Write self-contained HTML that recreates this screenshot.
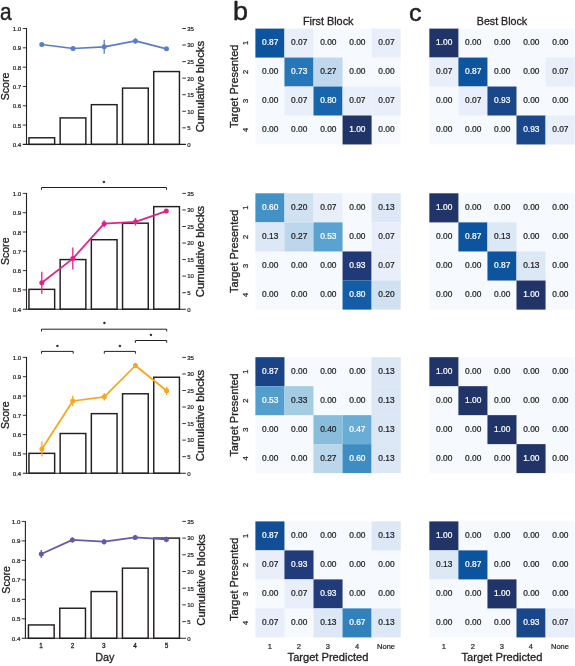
<!DOCTYPE html>
<html lang="en">
<head>
<meta charset="utf-8">
<title>Figure</title>
<style>
html,body{margin:0;padding:0;background:#ffffff;}
body{width:575px;height:666px;overflow:hidden;font-family:'Liberation Sans', Arial, Helvetica, sans-serif;}
svg{display:block;}
svg text{font-family:'Liberation Sans', Arial, Helvetica, sans-serif;}
</style>
</head>
<body>
<svg width="575" height="666" viewBox="0 0 575 666">
<rect width="575" height="666" fill="#ffffff"/>
<g id="chart1">
<rect x="28.95" y="137.78" width="25.7" height="6.62" fill="#fff" stroke="#231f20" stroke-width="1.45"/>
<rect x="60.15" y="117.91" width="25.7" height="26.49" fill="#fff" stroke="#231f20" stroke-width="1.45"/>
<rect x="91.35" y="104.66" width="25.7" height="39.74" fill="#fff" stroke="#231f20" stroke-width="1.45"/>
<rect x="122.55" y="88.11" width="25.7" height="56.29" fill="#fff" stroke="#231f20" stroke-width="1.45"/>
<rect x="153.75" y="71.55" width="25.7" height="72.85" fill="#fff" stroke="#231f20" stroke-width="1.45"/>
<path d="M26.5 28.05V144.4" stroke="#231f20" stroke-width="1.1" fill="none"/>
<path d="M22.8 144.4H185.9" stroke="#231f20" stroke-width="1.1" fill="none"/>
<path d="M22.8 28.50H26.5" stroke="#231f20" stroke-width="0.9"/>
<text x="21.3" y="31.0" font-size="6.2" text-anchor="end" fill="#231f20" stroke="#231f20" stroke-width="0.22">1.0</text>
<path d="M22.8 47.82H26.5" stroke="#231f20" stroke-width="0.9"/>
<text x="21.3" y="50.32" font-size="6.2" text-anchor="end" fill="#231f20" stroke="#231f20" stroke-width="0.22">0.9</text>
<path d="M22.8 67.13H26.5" stroke="#231f20" stroke-width="0.9"/>
<text x="21.3" y="69.63" font-size="6.2" text-anchor="end" fill="#231f20" stroke="#231f20" stroke-width="0.22">0.8</text>
<path d="M22.8 86.45H26.5" stroke="#231f20" stroke-width="0.9"/>
<text x="21.3" y="88.95" font-size="6.2" text-anchor="end" fill="#231f20" stroke="#231f20" stroke-width="0.22">0.7</text>
<path d="M22.8 105.77H26.5" stroke="#231f20" stroke-width="0.9"/>
<text x="21.3" y="108.27" font-size="6.2" text-anchor="end" fill="#231f20" stroke="#231f20" stroke-width="0.22">0.6</text>
<path d="M22.8 125.08H26.5" stroke="#231f20" stroke-width="0.9"/>
<text x="21.3" y="127.58" font-size="6.2" text-anchor="end" fill="#231f20" stroke="#231f20" stroke-width="0.22">0.5</text>
<text x="21.3" y="146.9" font-size="6.2" text-anchor="end" fill="#231f20" stroke="#231f20" stroke-width="0.22">0.4</text>
<text x="187.2" y="146.75" font-size="6.0" text-anchor="start" fill="#231f20" stroke="#231f20" stroke-width="0.22">0</text>
<path d="M182.3 127.84H185.9" stroke="#231f20" stroke-width="0.9"/>
<text x="187.2" y="130.19" font-size="6.0" text-anchor="start" fill="#231f20" stroke="#231f20" stroke-width="0.22">5</text>
<path d="M182.3 111.29H185.9" stroke="#231f20" stroke-width="0.9"/>
<text x="187.2" y="113.64" font-size="6.0" text-anchor="start" fill="#231f20" stroke="#231f20" stroke-width="0.22">10</text>
<path d="M182.3 94.73H185.9" stroke="#231f20" stroke-width="0.9"/>
<text x="187.2" y="97.08" font-size="6.0" text-anchor="start" fill="#231f20" stroke="#231f20" stroke-width="0.22">15</text>
<path d="M182.3 78.17H185.9" stroke="#231f20" stroke-width="0.9"/>
<text x="187.2" y="80.52" font-size="6.0" text-anchor="start" fill="#231f20" stroke="#231f20" stroke-width="0.22">20</text>
<path d="M182.3 61.61H185.9" stroke="#231f20" stroke-width="0.9"/>
<text x="187.2" y="63.96" font-size="6.0" text-anchor="start" fill="#231f20" stroke="#231f20" stroke-width="0.22">25</text>
<path d="M182.3 45.06H185.9" stroke="#231f20" stroke-width="0.9"/>
<text x="187.2" y="47.41" font-size="6.0" text-anchor="start" fill="#231f20" stroke="#231f20" stroke-width="0.22">30</text>
<path d="M182.3 28.50H185.9" stroke="#231f20" stroke-width="0.9"/>
<text x="187.2" y="30.85" font-size="6.0" text-anchor="start" fill="#231f20" stroke="#231f20" stroke-width="0.22">35</text>
<path d="M41.8 44.5 L73.0 48.5 L104.2 46.8 L135.4 40.9 L166.5 48.8" stroke="#5b7dc5" stroke-width="1.75" fill="none" stroke-linejoin="round"/>
<path d="M41.8 43.00V46.00" stroke="#5b7dc5" stroke-width="1.3"/>
<circle cx="41.8" cy="44.5" r="2.5" fill="#5b7dc5"/>
<path d="M73.0 45.90V51.10" stroke="#5b7dc5" stroke-width="1.3"/>
<circle cx="73.0" cy="48.5" r="2.5" fill="#5b7dc5"/>
<path d="M104.2 39.80V53.80" stroke="#5b7dc5" stroke-width="1.3"/>
<circle cx="104.2" cy="46.8" r="2.5" fill="#5b7dc5"/>
<path d="M135.4 38.30V43.50" stroke="#5b7dc5" stroke-width="1.3"/>
<circle cx="135.4" cy="40.9" r="2.5" fill="#5b7dc5"/>
<path d="M166.5 47.30V50.30" stroke="#5b7dc5" stroke-width="1.3"/>
<circle cx="166.5" cy="48.8" r="2.5" fill="#5b7dc5"/>
<text x="9.4" y="86.45" font-size="11.6" text-anchor="middle" fill="#231f20" stroke="#231f20" stroke-width="0.32" textLength="27.6" lengthAdjust="spacingAndGlyphs" transform="rotate(-90 9.4 86.45)">Score</text>
<text x="204.4" y="86.65" font-size="11.6" text-anchor="middle" fill="#231f20" stroke="#231f20" stroke-width="0.32" textLength="91.4" lengthAdjust="spacingAndGlyphs" transform="rotate(-90 204.4 86.65)">Cumulative blocks</text>
</g>
<g id="chart2">
<rect x="28.95" y="289.35" width="25.7" height="19.85" fill="#fff" stroke="#231f20" stroke-width="1.45"/>
<rect x="60.15" y="259.57" width="25.7" height="49.63" fill="#fff" stroke="#231f20" stroke-width="1.45"/>
<rect x="91.35" y="239.72" width="25.7" height="69.48" fill="#fff" stroke="#231f20" stroke-width="1.45"/>
<rect x="122.55" y="223.18" width="25.7" height="86.02" fill="#fff" stroke="#231f20" stroke-width="1.45"/>
<rect x="153.75" y="206.63" width="25.7" height="102.57" fill="#fff" stroke="#231f20" stroke-width="1.45"/>
<path d="M26.5 192.95000000000002V309.2" stroke="#231f20" stroke-width="1.1" fill="none"/>
<path d="M22.8 309.2H185.9" stroke="#231f20" stroke-width="1.1" fill="none"/>
<path d="M22.8 193.40H26.5" stroke="#231f20" stroke-width="0.9"/>
<text x="21.3" y="195.9" font-size="6.2" text-anchor="end" fill="#231f20" stroke="#231f20" stroke-width="0.22">1.0</text>
<path d="M22.8 212.70H26.5" stroke="#231f20" stroke-width="0.9"/>
<text x="21.3" y="215.2" font-size="6.2" text-anchor="end" fill="#231f20" stroke="#231f20" stroke-width="0.22">0.9</text>
<path d="M22.8 232.00H26.5" stroke="#231f20" stroke-width="0.9"/>
<text x="21.3" y="234.5" font-size="6.2" text-anchor="end" fill="#231f20" stroke="#231f20" stroke-width="0.22">0.8</text>
<path d="M22.8 251.30H26.5" stroke="#231f20" stroke-width="0.9"/>
<text x="21.3" y="253.8" font-size="6.2" text-anchor="end" fill="#231f20" stroke="#231f20" stroke-width="0.22">0.7</text>
<path d="M22.8 270.60H26.5" stroke="#231f20" stroke-width="0.9"/>
<text x="21.3" y="273.1" font-size="6.2" text-anchor="end" fill="#231f20" stroke="#231f20" stroke-width="0.22">0.6</text>
<path d="M22.8 289.90H26.5" stroke="#231f20" stroke-width="0.9"/>
<text x="21.3" y="292.4" font-size="6.2" text-anchor="end" fill="#231f20" stroke="#231f20" stroke-width="0.22">0.5</text>
<text x="21.3" y="311.7" font-size="6.2" text-anchor="end" fill="#231f20" stroke="#231f20" stroke-width="0.22">0.4</text>
<text x="187.2" y="311.55" font-size="6.0" text-anchor="start" fill="#231f20" stroke="#231f20" stroke-width="0.22">0</text>
<path d="M182.3 292.66H185.9" stroke="#231f20" stroke-width="0.9"/>
<text x="187.2" y="295.01" font-size="6.0" text-anchor="start" fill="#231f20" stroke="#231f20" stroke-width="0.22">5</text>
<path d="M182.3 276.11H185.9" stroke="#231f20" stroke-width="0.9"/>
<text x="187.2" y="278.46" font-size="6.0" text-anchor="start" fill="#231f20" stroke="#231f20" stroke-width="0.22">10</text>
<path d="M182.3 259.57H185.9" stroke="#231f20" stroke-width="0.9"/>
<text x="187.2" y="261.92" font-size="6.0" text-anchor="start" fill="#231f20" stroke="#231f20" stroke-width="0.22">15</text>
<path d="M182.3 243.03H185.9" stroke="#231f20" stroke-width="0.9"/>
<text x="187.2" y="245.38" font-size="6.0" text-anchor="start" fill="#231f20" stroke="#231f20" stroke-width="0.22">20</text>
<path d="M182.3 226.49H185.9" stroke="#231f20" stroke-width="0.9"/>
<text x="187.2" y="228.84" font-size="6.0" text-anchor="start" fill="#231f20" stroke="#231f20" stroke-width="0.22">25</text>
<path d="M182.3 209.94H185.9" stroke="#231f20" stroke-width="0.9"/>
<text x="187.2" y="212.29" font-size="6.0" text-anchor="start" fill="#231f20" stroke="#231f20" stroke-width="0.22">30</text>
<path d="M182.3 193.40H185.9" stroke="#231f20" stroke-width="0.9"/>
<text x="187.2" y="195.75" font-size="6.0" text-anchor="start" fill="#231f20" stroke="#231f20" stroke-width="0.22">35</text>
<path d="M41.8 282.8 L72.8 258.6 L104.1 223.7 L135.5 221.8 L166.3 211.1" stroke="#e2228a" stroke-width="1.75" fill="none" stroke-linejoin="round"/>
<path d="M41.8 271.80V293.80" stroke="#e2228a" stroke-width="1.3"/>
<circle cx="41.8" cy="282.8" r="2.5" fill="#e2228a"/>
<path d="M72.8 247.60V269.60" stroke="#e2228a" stroke-width="1.3"/>
<circle cx="72.8" cy="258.6" r="2.5" fill="#e2228a"/>
<path d="M104.1 220.20V227.20" stroke="#e2228a" stroke-width="1.3"/>
<circle cx="104.1" cy="223.7" r="2.5" fill="#e2228a"/>
<path d="M135.5 218.00V225.60" stroke="#e2228a" stroke-width="1.3"/>
<circle cx="135.5" cy="221.8" r="2.5" fill="#e2228a"/>
<path d="M166.3 210.10V212.10" stroke="#e2228a" stroke-width="1.3"/>
<circle cx="166.3" cy="211.1" r="2.5" fill="#e2228a"/>
<text x="9.4" y="251.3" font-size="11.6" text-anchor="middle" fill="#231f20" stroke="#231f20" stroke-width="0.32" textLength="27.6" lengthAdjust="spacingAndGlyphs" transform="rotate(-90 9.4 251.3)">Score</text>
<text x="204.4" y="251.5" font-size="11.6" text-anchor="middle" fill="#231f20" stroke="#231f20" stroke-width="0.32" textLength="91.4" lengthAdjust="spacingAndGlyphs" transform="rotate(-90 204.4 251.5)">Cumulative blocks</text>
</g>
<g id="chart3">
<rect x="28.95" y="453.35" width="25.7" height="19.85" fill="#fff" stroke="#231f20" stroke-width="1.45"/>
<rect x="60.15" y="433.50" width="25.7" height="39.70" fill="#fff" stroke="#231f20" stroke-width="1.45"/>
<rect x="91.35" y="413.65" width="25.7" height="59.55" fill="#fff" stroke="#231f20" stroke-width="1.45"/>
<rect x="122.55" y="393.79" width="25.7" height="79.41" fill="#fff" stroke="#231f20" stroke-width="1.45"/>
<rect x="153.75" y="377.25" width="25.7" height="95.95" fill="#fff" stroke="#231f20" stroke-width="1.45"/>
<path d="M26.5 356.95V473.2" stroke="#231f20" stroke-width="1.1" fill="none"/>
<path d="M22.8 473.2H185.9" stroke="#231f20" stroke-width="1.1" fill="none"/>
<path d="M22.8 357.40H26.5" stroke="#231f20" stroke-width="0.9"/>
<text x="21.3" y="359.9" font-size="6.2" text-anchor="end" fill="#231f20" stroke="#231f20" stroke-width="0.22">1.0</text>
<path d="M22.8 376.70H26.5" stroke="#231f20" stroke-width="0.9"/>
<text x="21.3" y="379.2" font-size="6.2" text-anchor="end" fill="#231f20" stroke="#231f20" stroke-width="0.22">0.9</text>
<path d="M22.8 396.00H26.5" stroke="#231f20" stroke-width="0.9"/>
<text x="21.3" y="398.5" font-size="6.2" text-anchor="end" fill="#231f20" stroke="#231f20" stroke-width="0.22">0.8</text>
<path d="M22.8 415.30H26.5" stroke="#231f20" stroke-width="0.9"/>
<text x="21.3" y="417.8" font-size="6.2" text-anchor="end" fill="#231f20" stroke="#231f20" stroke-width="0.22">0.7</text>
<path d="M22.8 434.60H26.5" stroke="#231f20" stroke-width="0.9"/>
<text x="21.3" y="437.1" font-size="6.2" text-anchor="end" fill="#231f20" stroke="#231f20" stroke-width="0.22">0.6</text>
<path d="M22.8 453.90H26.5" stroke="#231f20" stroke-width="0.9"/>
<text x="21.3" y="456.4" font-size="6.2" text-anchor="end" fill="#231f20" stroke="#231f20" stroke-width="0.22">0.5</text>
<text x="21.3" y="475.7" font-size="6.2" text-anchor="end" fill="#231f20" stroke="#231f20" stroke-width="0.22">0.4</text>
<text x="187.2" y="475.55" font-size="6.0" text-anchor="start" fill="#231f20" stroke="#231f20" stroke-width="0.22">0</text>
<path d="M182.3 456.66H185.9" stroke="#231f20" stroke-width="0.9"/>
<text x="187.2" y="459.01" font-size="6.0" text-anchor="start" fill="#231f20" stroke="#231f20" stroke-width="0.22">5</text>
<path d="M182.3 440.11H185.9" stroke="#231f20" stroke-width="0.9"/>
<text x="187.2" y="442.46" font-size="6.0" text-anchor="start" fill="#231f20" stroke="#231f20" stroke-width="0.22">10</text>
<path d="M182.3 423.57H185.9" stroke="#231f20" stroke-width="0.9"/>
<text x="187.2" y="425.92" font-size="6.0" text-anchor="start" fill="#231f20" stroke="#231f20" stroke-width="0.22">15</text>
<path d="M182.3 407.03H185.9" stroke="#231f20" stroke-width="0.9"/>
<text x="187.2" y="409.38" font-size="6.0" text-anchor="start" fill="#231f20" stroke="#231f20" stroke-width="0.22">20</text>
<path d="M182.3 390.49H185.9" stroke="#231f20" stroke-width="0.9"/>
<text x="187.2" y="392.84" font-size="6.0" text-anchor="start" fill="#231f20" stroke="#231f20" stroke-width="0.22">25</text>
<path d="M182.3 373.94H185.9" stroke="#231f20" stroke-width="0.9"/>
<text x="187.2" y="376.29" font-size="6.0" text-anchor="start" fill="#231f20" stroke="#231f20" stroke-width="0.22">30</text>
<path d="M182.3 357.40H185.9" stroke="#231f20" stroke-width="0.9"/>
<text x="187.2" y="359.75" font-size="6.0" text-anchor="start" fill="#231f20" stroke="#231f20" stroke-width="0.22">35</text>
<path d="M41.9 449.0 L72.8 401.0 L104.3 396.8 L135.4 365.5 L166.6 390.8" stroke="#f8a61b" stroke-width="1.75" fill="none" stroke-linejoin="round"/>
<path d="M41.9 441.50V456.50" stroke="#f8a61b" stroke-width="1.3"/>
<circle cx="41.9" cy="449.0" r="2.5" fill="#f8a61b"/>
<path d="M72.8 395.80V406.20" stroke="#f8a61b" stroke-width="1.3"/>
<circle cx="72.8" cy="401.0" r="2.5" fill="#f8a61b"/>
<path d="M104.3 393.00V400.60" stroke="#f8a61b" stroke-width="1.3"/>
<circle cx="104.3" cy="396.8" r="2.5" fill="#f8a61b"/>
<path d="M135.4 363.10V367.90" stroke="#f8a61b" stroke-width="1.3"/>
<circle cx="135.4" cy="365.5" r="2.5" fill="#f8a61b"/>
<path d="M166.6 386.60V395.00" stroke="#f8a61b" stroke-width="1.3"/>
<circle cx="166.6" cy="390.8" r="2.5" fill="#f8a61b"/>
<text x="9.4" y="415.3" font-size="11.6" text-anchor="middle" fill="#231f20" stroke="#231f20" stroke-width="0.32" textLength="27.6" lengthAdjust="spacingAndGlyphs" transform="rotate(-90 9.4 415.3)">Score</text>
<text x="204.4" y="415.5" font-size="11.6" text-anchor="middle" fill="#231f20" stroke="#231f20" stroke-width="0.32" textLength="91.4" lengthAdjust="spacingAndGlyphs" transform="rotate(-90 204.4 415.5)">Cumulative blocks</text>
</g>
<g id="chart4">
<rect x="28.45" y="624.94" width="25.7" height="13.36" fill="#fff" stroke="#231f20" stroke-width="1.45"/>
<rect x="59.78" y="608.24" width="25.7" height="30.06" fill="#fff" stroke="#231f20" stroke-width="1.45"/>
<rect x="91.11" y="591.54" width="25.7" height="46.76" fill="#fff" stroke="#231f20" stroke-width="1.45"/>
<rect x="122.44" y="568.16" width="25.7" height="70.14" fill="#fff" stroke="#231f20" stroke-width="1.45"/>
<rect x="153.77" y="538.10" width="25.7" height="100.20" fill="#fff" stroke="#231f20" stroke-width="1.45"/>
<path d="M25.4 520.9499999999999V638.3" stroke="#231f20" stroke-width="1.1" fill="none"/>
<path d="M21.7 638.3H185.9" stroke="#231f20" stroke-width="1.1" fill="none"/>
<path d="M21.7 521.40H25.4" stroke="#231f20" stroke-width="0.9"/>
<text x="20.42" y="523.9" font-size="6.2" text-anchor="end" fill="#231f20" stroke="#231f20" stroke-width="0.22">1.0</text>
<path d="M21.7 540.88H25.4" stroke="#231f20" stroke-width="0.9"/>
<text x="20.42" y="543.38" font-size="6.2" text-anchor="end" fill="#231f20" stroke="#231f20" stroke-width="0.22">0.9</text>
<path d="M21.7 560.37H25.4" stroke="#231f20" stroke-width="0.9"/>
<text x="20.42" y="562.87" font-size="6.2" text-anchor="end" fill="#231f20" stroke="#231f20" stroke-width="0.22">0.8</text>
<path d="M21.7 579.85H25.4" stroke="#231f20" stroke-width="0.9"/>
<text x="20.42" y="582.35" font-size="6.2" text-anchor="end" fill="#231f20" stroke="#231f20" stroke-width="0.22">0.7</text>
<path d="M21.7 599.33H25.4" stroke="#231f20" stroke-width="0.9"/>
<text x="20.42" y="601.83" font-size="6.2" text-anchor="end" fill="#231f20" stroke="#231f20" stroke-width="0.22">0.6</text>
<path d="M21.7 618.82H25.4" stroke="#231f20" stroke-width="0.9"/>
<text x="20.42" y="621.32" font-size="6.2" text-anchor="end" fill="#231f20" stroke="#231f20" stroke-width="0.22">0.5</text>
<text x="20.42" y="640.8" font-size="6.2" text-anchor="end" fill="#231f20" stroke="#231f20" stroke-width="0.22">0.4</text>
<text x="187.2" y="640.65" font-size="6.0" text-anchor="start" fill="#231f20" stroke="#231f20" stroke-width="0.22">0</text>
<path d="M182.3 621.60H185.9" stroke="#231f20" stroke-width="0.9"/>
<text x="187.2" y="623.95" font-size="6.0" text-anchor="start" fill="#231f20" stroke="#231f20" stroke-width="0.22">5</text>
<path d="M182.3 604.90H185.9" stroke="#231f20" stroke-width="0.9"/>
<text x="187.2" y="607.25" font-size="6.0" text-anchor="start" fill="#231f20" stroke="#231f20" stroke-width="0.22">10</text>
<path d="M182.3 588.20H185.9" stroke="#231f20" stroke-width="0.9"/>
<text x="187.2" y="590.55" font-size="6.0" text-anchor="start" fill="#231f20" stroke="#231f20" stroke-width="0.22">15</text>
<path d="M182.3 571.50H185.9" stroke="#231f20" stroke-width="0.9"/>
<text x="187.2" y="573.85" font-size="6.0" text-anchor="start" fill="#231f20" stroke="#231f20" stroke-width="0.22">20</text>
<path d="M182.3 554.80H185.9" stroke="#231f20" stroke-width="0.9"/>
<text x="187.2" y="557.15" font-size="6.0" text-anchor="start" fill="#231f20" stroke="#231f20" stroke-width="0.22">25</text>
<path d="M182.3 538.10H185.9" stroke="#231f20" stroke-width="0.9"/>
<text x="187.2" y="540.45" font-size="6.0" text-anchor="start" fill="#231f20" stroke="#231f20" stroke-width="0.22">30</text>
<path d="M182.3 521.40H185.9" stroke="#231f20" stroke-width="0.9"/>
<text x="187.2" y="523.75" font-size="6.0" text-anchor="start" fill="#231f20" stroke="#231f20" stroke-width="0.22">35</text>
<path d="M41.3 554.0 L72.4 539.9 L104.1 541.7 L135.2 537.4 L166.4 539.4" stroke="#6858a9" stroke-width="1.75" fill="none" stroke-linejoin="round"/>
<path d="M41.3 550.00V558.00" stroke="#6858a9" stroke-width="1.3"/>
<circle cx="41.3" cy="554.0" r="2.5" fill="#6858a9"/>
<path d="M72.4 537.30V542.50" stroke="#6858a9" stroke-width="1.3"/>
<circle cx="72.4" cy="539.9" r="2.5" fill="#6858a9"/>
<path d="M104.1 538.90V544.50" stroke="#6858a9" stroke-width="1.3"/>
<circle cx="104.1" cy="541.7" r="2.5" fill="#6858a9"/>
<path d="M135.2 535.00V539.80" stroke="#6858a9" stroke-width="1.3"/>
<circle cx="135.2" cy="537.4" r="2.5" fill="#6858a9"/>
<path d="M166.4 536.60V542.20" stroke="#6858a9" stroke-width="1.3"/>
<circle cx="166.4" cy="539.4" r="2.5" fill="#6858a9"/>
<text x="9.9" y="579.85" font-size="11.6" text-anchor="middle" fill="#231f20" stroke="#231f20" stroke-width="0.32" textLength="27.6" lengthAdjust="spacingAndGlyphs" transform="rotate(-90 9.9 579.85)">Score</text>
<text x="205.1" y="580.05" font-size="11.6" text-anchor="middle" fill="#231f20" stroke="#231f20" stroke-width="0.32" textLength="91.4" lengthAdjust="spacingAndGlyphs" transform="rotate(-90 205.1 580.05)">Cumulative blocks</text>
</g>
<text x="41.1" y="648.1" font-size="6.4" text-anchor="middle" fill="#231f20" stroke="#231f20" stroke-width="0.3">1</text>
<text x="72.43" y="648.1" font-size="6.4" text-anchor="middle" fill="#231f20" stroke="#231f20" stroke-width="0.3">2</text>
<text x="103.76" y="648.1" font-size="6.4" text-anchor="middle" fill="#231f20" stroke="#231f20" stroke-width="0.3">3</text>
<text x="135.09" y="648.1" font-size="6.4" text-anchor="middle" fill="#231f20" stroke="#231f20" stroke-width="0.3">4</text>
<text x="166.42" y="648.1" font-size="6.4" text-anchor="middle" fill="#231f20" stroke="#231f20" stroke-width="0.3">5</text>
<text x="104.9" y="660.8" font-size="11.6" text-anchor="middle" fill="#231f20" stroke="#231f20" stroke-width="0.32" textLength="19.2" lengthAdjust="spacingAndGlyphs">Day</text>
<g id="sig">
<path d="M41.5 189.8V187.5H166.5V189.8" stroke="#231f20" stroke-width="1.0" fill="none"/>
<text x="104.0" y="184.6" font-size="6" text-anchor="middle" fill="#231f20" stroke="#231f20" stroke-width="0.45">*</text>
<path d="M41.5 331.5V329.2H166.7V331.5" stroke="#231f20" stroke-width="1.0" fill="none"/>
<text x="104.3" y="326.40000000000003" font-size="6" text-anchor="middle" fill="#231f20" stroke="#231f20" stroke-width="0.45">*</text>
<path d="M41.5 353.7V351.4H73.2V353.7" stroke="#231f20" stroke-width="1.0" fill="none"/>
<text x="57.5" y="348.6" font-size="6" text-anchor="middle" fill="#231f20" stroke="#231f20" stroke-width="0.45">*</text>
<path d="M104.3 353.7V351.4H135.4V353.7" stroke="#231f20" stroke-width="1.0" fill="none"/>
<text x="119.8" y="348.6" font-size="6" text-anchor="middle" fill="#231f20" stroke="#231f20" stroke-width="0.45">*</text>
<path d="M135.4 342.8V340.5H166.7V342.8" stroke="#231f20" stroke-width="1.0" fill="none"/>
<text x="150.9" y="337.6" font-size="6" text-anchor="middle" fill="#231f20" stroke="#231f20" stroke-width="0.45">*</text>
</g>
<g id="b1">
<rect x="255.4" y="28.60" width="145.25" height="115.85" fill="#f6faff"/>
<rect x="255.40" y="28.60" width="29.05" height="28.96" fill="#0d549f"/>
<rect x="284.45" y="28.60" width="29.05" height="28.96" fill="#e9effa"/>
<rect x="371.60" y="28.60" width="29.05" height="28.96" fill="#e9effa"/>
<rect x="284.45" y="57.56" width="29.05" height="28.96" fill="#2676b8"/>
<rect x="313.50" y="57.56" width="29.05" height="28.96" fill="#c0d8ed"/>
<rect x="284.45" y="86.53" width="29.05" height="28.96" fill="#e9effa"/>
<rect x="313.50" y="86.53" width="29.05" height="28.96" fill="#1965ac"/>
<rect x="342.55" y="86.53" width="29.05" height="28.96" fill="#e9effa"/>
<rect x="371.60" y="86.53" width="29.05" height="28.96" fill="#e9effa"/>
<rect x="342.55" y="115.49" width="29.05" height="28.96" fill="#213468"/>
<text x="270.23" y="45.33" font-size="8.4" text-anchor="middle" fill="#ffffff" stroke="#ffffff" stroke-width="0.22">0.87</text>
<text x="299.28" y="45.33" font-size="8.4" text-anchor="middle" fill="#1c1c1c" stroke="#1c1c1c" stroke-width="0.22">0.07</text>
<text x="328.32" y="45.33" font-size="8.4" text-anchor="middle" fill="#1c1c1c" stroke="#1c1c1c" stroke-width="0.22">0.00</text>
<text x="357.38" y="45.33" font-size="8.4" text-anchor="middle" fill="#1c1c1c" stroke="#1c1c1c" stroke-width="0.22">0.00</text>
<text x="386.43" y="45.33" font-size="8.4" text-anchor="middle" fill="#1c1c1c" stroke="#1c1c1c" stroke-width="0.22">0.07</text>
<text x="270.23" y="74.29" font-size="8.4" text-anchor="middle" fill="#1c1c1c" stroke="#1c1c1c" stroke-width="0.22">0.00</text>
<text x="299.28" y="74.29" font-size="8.4" text-anchor="middle" fill="#ffffff" stroke="#ffffff" stroke-width="0.22">0.73</text>
<text x="328.32" y="74.29" font-size="8.4" text-anchor="middle" fill="#1c1c1c" stroke="#1c1c1c" stroke-width="0.22">0.27</text>
<text x="357.38" y="74.29" font-size="8.4" text-anchor="middle" fill="#1c1c1c" stroke="#1c1c1c" stroke-width="0.22">0.00</text>
<text x="386.43" y="74.29" font-size="8.4" text-anchor="middle" fill="#1c1c1c" stroke="#1c1c1c" stroke-width="0.22">0.00</text>
<text x="270.23" y="103.26" font-size="8.4" text-anchor="middle" fill="#1c1c1c" stroke="#1c1c1c" stroke-width="0.22">0.00</text>
<text x="299.28" y="103.26" font-size="8.4" text-anchor="middle" fill="#1c1c1c" stroke="#1c1c1c" stroke-width="0.22">0.07</text>
<text x="328.32" y="103.26" font-size="8.4" text-anchor="middle" fill="#ffffff" stroke="#ffffff" stroke-width="0.22">0.80</text>
<text x="357.38" y="103.26" font-size="8.4" text-anchor="middle" fill="#1c1c1c" stroke="#1c1c1c" stroke-width="0.22">0.07</text>
<text x="386.43" y="103.26" font-size="8.4" text-anchor="middle" fill="#1c1c1c" stroke="#1c1c1c" stroke-width="0.22">0.07</text>
<text x="270.23" y="132.22" font-size="8.4" text-anchor="middle" fill="#1c1c1c" stroke="#1c1c1c" stroke-width="0.22">0.00</text>
<text x="299.28" y="132.22" font-size="8.4" text-anchor="middle" fill="#1c1c1c" stroke="#1c1c1c" stroke-width="0.22">0.00</text>
<text x="328.32" y="132.22" font-size="8.4" text-anchor="middle" fill="#1c1c1c" stroke="#1c1c1c" stroke-width="0.22">0.00</text>
<text x="357.38" y="132.22" font-size="8.4" text-anchor="middle" fill="#ffffff" stroke="#ffffff" stroke-width="0.22">1.00</text>
<text x="386.43" y="132.22" font-size="8.4" text-anchor="middle" fill="#1c1c1c" stroke="#1c1c1c" stroke-width="0.22">0.00</text>
</g>
<g id="c1">
<rect x="429.35" y="28.60" width="145.25" height="115.85" fill="#f6faff"/>
<rect x="429.35" y="28.60" width="29.05" height="28.96" fill="#213468"/>
<rect x="429.35" y="57.56" width="29.05" height="28.96" fill="#e9effa"/>
<rect x="458.40" y="57.56" width="29.05" height="28.96" fill="#0d549f"/>
<rect x="545.55" y="57.56" width="29.05" height="28.96" fill="#e9effa"/>
<rect x="458.40" y="86.53" width="29.05" height="28.96" fill="#e9effa"/>
<rect x="487.45" y="86.53" width="29.05" height="28.96" fill="#1a468a"/>
<rect x="516.50" y="115.49" width="29.05" height="28.96" fill="#1a468a"/>
<rect x="545.55" y="115.49" width="29.05" height="28.96" fill="#e9effa"/>
<text x="444.18" y="45.33" font-size="8.4" text-anchor="middle" fill="#ffffff" stroke="#ffffff" stroke-width="0.22">1.00</text>
<text x="473.23" y="45.33" font-size="8.4" text-anchor="middle" fill="#1c1c1c" stroke="#1c1c1c" stroke-width="0.22">0.00</text>
<text x="502.28" y="45.33" font-size="8.4" text-anchor="middle" fill="#1c1c1c" stroke="#1c1c1c" stroke-width="0.22">0.00</text>
<text x="531.32" y="45.33" font-size="8.4" text-anchor="middle" fill="#1c1c1c" stroke="#1c1c1c" stroke-width="0.22">0.00</text>
<text x="560.38" y="45.33" font-size="8.4" text-anchor="middle" fill="#1c1c1c" stroke="#1c1c1c" stroke-width="0.22">0.00</text>
<text x="444.18" y="74.29" font-size="8.4" text-anchor="middle" fill="#1c1c1c" stroke="#1c1c1c" stroke-width="0.22">0.07</text>
<text x="473.23" y="74.29" font-size="8.4" text-anchor="middle" fill="#ffffff" stroke="#ffffff" stroke-width="0.22">0.87</text>
<text x="502.28" y="74.29" font-size="8.4" text-anchor="middle" fill="#1c1c1c" stroke="#1c1c1c" stroke-width="0.22">0.00</text>
<text x="531.32" y="74.29" font-size="8.4" text-anchor="middle" fill="#1c1c1c" stroke="#1c1c1c" stroke-width="0.22">0.00</text>
<text x="560.38" y="74.29" font-size="8.4" text-anchor="middle" fill="#1c1c1c" stroke="#1c1c1c" stroke-width="0.22">0.07</text>
<text x="444.18" y="103.26" font-size="8.4" text-anchor="middle" fill="#1c1c1c" stroke="#1c1c1c" stroke-width="0.22">0.00</text>
<text x="473.23" y="103.26" font-size="8.4" text-anchor="middle" fill="#1c1c1c" stroke="#1c1c1c" stroke-width="0.22">0.07</text>
<text x="502.28" y="103.26" font-size="8.4" text-anchor="middle" fill="#ffffff" stroke="#ffffff" stroke-width="0.22">0.93</text>
<text x="531.32" y="103.26" font-size="8.4" text-anchor="middle" fill="#1c1c1c" stroke="#1c1c1c" stroke-width="0.22">0.00</text>
<text x="560.38" y="103.26" font-size="8.4" text-anchor="middle" fill="#1c1c1c" stroke="#1c1c1c" stroke-width="0.22">0.00</text>
<text x="444.18" y="132.22" font-size="8.4" text-anchor="middle" fill="#1c1c1c" stroke="#1c1c1c" stroke-width="0.22">0.00</text>
<text x="473.23" y="132.22" font-size="8.4" text-anchor="middle" fill="#1c1c1c" stroke="#1c1c1c" stroke-width="0.22">0.00</text>
<text x="502.28" y="132.22" font-size="8.4" text-anchor="middle" fill="#1c1c1c" stroke="#1c1c1c" stroke-width="0.22">0.00</text>
<text x="531.32" y="132.22" font-size="8.4" text-anchor="middle" fill="#ffffff" stroke="#ffffff" stroke-width="0.22">0.93</text>
<text x="560.38" y="132.22" font-size="8.4" text-anchor="middle" fill="#1c1c1c" stroke="#1c1c1c" stroke-width="0.22">0.07</text>
</g>
<text x="247.8" y="42.98" font-size="7.5" text-anchor="middle" fill="#231f20" stroke="#231f20" stroke-width="0.22" transform="rotate(-90 247.8 42.98)">1</text>
<text x="247.8" y="71.94" font-size="7.5" text-anchor="middle" fill="#231f20" stroke="#231f20" stroke-width="0.22" transform="rotate(-90 247.8 71.94)">2</text>
<text x="247.8" y="100.91" font-size="7.5" text-anchor="middle" fill="#231f20" stroke="#231f20" stroke-width="0.22" transform="rotate(-90 247.8 100.91)">3</text>
<text x="247.8" y="129.87" font-size="7.5" text-anchor="middle" fill="#231f20" stroke="#231f20" stroke-width="0.22" transform="rotate(-90 247.8 129.87)">4</text>
<text x="238.0" y="86.33" font-size="11.6" text-anchor="middle" fill="#231f20" stroke="#231f20" stroke-width="0.32" textLength="83.3" lengthAdjust="spacingAndGlyphs" transform="rotate(-90 238.0 86.33)">Target Presented</text>
<g id="b2">
<rect x="255.4" y="193.30" width="145.25" height="116.30" fill="#f6faff"/>
<rect x="255.40" y="193.30" width="29.05" height="29.08" fill="#4292c6"/>
<rect x="284.45" y="193.30" width="29.05" height="29.08" fill="#d0e1f2"/>
<rect x="313.50" y="193.30" width="29.05" height="29.08" fill="#e8effa"/>
<rect x="371.60" y="193.30" width="29.05" height="29.08" fill="#dce8f6"/>
<rect x="255.40" y="222.38" width="29.05" height="29.08" fill="#dce8f6"/>
<rect x="284.45" y="222.38" width="29.05" height="29.08" fill="#bcd7ec"/>
<rect x="313.50" y="222.38" width="29.05" height="29.08" fill="#5aa2cf"/>
<rect x="371.60" y="222.38" width="29.05" height="29.08" fill="#e8effa"/>
<rect x="342.55" y="251.45" width="29.05" height="29.08" fill="#213976"/>
<rect x="371.60" y="251.45" width="29.05" height="29.08" fill="#e8effa"/>
<rect x="342.55" y="280.53" width="29.05" height="29.08" fill="#135da6"/>
<rect x="371.60" y="280.53" width="29.05" height="29.08" fill="#d0e1f2"/>
<text x="270.23" y="210.09" font-size="8.4" text-anchor="middle" fill="#ffffff" stroke="#ffffff" stroke-width="0.22">0.60</text>
<text x="299.28" y="210.09" font-size="8.4" text-anchor="middle" fill="#1c1c1c" stroke="#1c1c1c" stroke-width="0.22">0.20</text>
<text x="328.32" y="210.09" font-size="8.4" text-anchor="middle" fill="#1c1c1c" stroke="#1c1c1c" stroke-width="0.22">0.07</text>
<text x="357.38" y="210.09" font-size="8.4" text-anchor="middle" fill="#1c1c1c" stroke="#1c1c1c" stroke-width="0.22">0.00</text>
<text x="386.43" y="210.09" font-size="8.4" text-anchor="middle" fill="#1c1c1c" stroke="#1c1c1c" stroke-width="0.22">0.13</text>
<text x="270.23" y="239.16" font-size="8.4" text-anchor="middle" fill="#1c1c1c" stroke="#1c1c1c" stroke-width="0.22">0.13</text>
<text x="299.28" y="239.16" font-size="8.4" text-anchor="middle" fill="#1c1c1c" stroke="#1c1c1c" stroke-width="0.22">0.27</text>
<text x="328.32" y="239.16" font-size="8.4" text-anchor="middle" fill="#ffffff" stroke="#ffffff" stroke-width="0.22">0.53</text>
<text x="357.38" y="239.16" font-size="8.4" text-anchor="middle" fill="#1c1c1c" stroke="#1c1c1c" stroke-width="0.22">0.00</text>
<text x="386.43" y="239.16" font-size="8.4" text-anchor="middle" fill="#1c1c1c" stroke="#1c1c1c" stroke-width="0.22">0.07</text>
<text x="270.23" y="268.24" font-size="8.4" text-anchor="middle" fill="#1c1c1c" stroke="#1c1c1c" stroke-width="0.22">0.00</text>
<text x="299.28" y="268.24" font-size="8.4" text-anchor="middle" fill="#1c1c1c" stroke="#1c1c1c" stroke-width="0.22">0.00</text>
<text x="328.32" y="268.24" font-size="8.4" text-anchor="middle" fill="#1c1c1c" stroke="#1c1c1c" stroke-width="0.22">0.00</text>
<text x="357.38" y="268.24" font-size="8.4" text-anchor="middle" fill="#ffffff" stroke="#ffffff" stroke-width="0.22">0.93</text>
<text x="386.43" y="268.24" font-size="8.4" text-anchor="middle" fill="#1c1c1c" stroke="#1c1c1c" stroke-width="0.22">0.07</text>
<text x="270.23" y="297.31" font-size="8.4" text-anchor="middle" fill="#1c1c1c" stroke="#1c1c1c" stroke-width="0.22">0.00</text>
<text x="299.28" y="297.31" font-size="8.4" text-anchor="middle" fill="#1c1c1c" stroke="#1c1c1c" stroke-width="0.22">0.00</text>
<text x="328.32" y="297.31" font-size="8.4" text-anchor="middle" fill="#1c1c1c" stroke="#1c1c1c" stroke-width="0.22">0.00</text>
<text x="357.38" y="297.31" font-size="8.4" text-anchor="middle" fill="#ffffff" stroke="#ffffff" stroke-width="0.22">0.80</text>
<text x="386.43" y="297.31" font-size="8.4" text-anchor="middle" fill="#1c1c1c" stroke="#1c1c1c" stroke-width="0.22">0.20</text>
</g>
<g id="c2">
<rect x="429.35" y="193.30" width="145.25" height="116.30" fill="#f6faff"/>
<rect x="429.35" y="193.30" width="29.05" height="29.08" fill="#213468"/>
<rect x="458.40" y="222.38" width="29.05" height="29.08" fill="#0d549f"/>
<rect x="487.45" y="222.38" width="29.05" height="29.08" fill="#dde8f6"/>
<rect x="487.45" y="251.45" width="29.05" height="29.08" fill="#0d549f"/>
<rect x="516.50" y="251.45" width="29.05" height="29.08" fill="#dde8f6"/>
<rect x="516.50" y="280.53" width="29.05" height="29.08" fill="#213468"/>
<text x="444.18" y="210.09" font-size="8.4" text-anchor="middle" fill="#ffffff" stroke="#ffffff" stroke-width="0.22">1.00</text>
<text x="473.23" y="210.09" font-size="8.4" text-anchor="middle" fill="#1c1c1c" stroke="#1c1c1c" stroke-width="0.22">0.00</text>
<text x="502.28" y="210.09" font-size="8.4" text-anchor="middle" fill="#1c1c1c" stroke="#1c1c1c" stroke-width="0.22">0.00</text>
<text x="531.32" y="210.09" font-size="8.4" text-anchor="middle" fill="#1c1c1c" stroke="#1c1c1c" stroke-width="0.22">0.00</text>
<text x="560.38" y="210.09" font-size="8.4" text-anchor="middle" fill="#1c1c1c" stroke="#1c1c1c" stroke-width="0.22">0.00</text>
<text x="444.18" y="239.16" font-size="8.4" text-anchor="middle" fill="#1c1c1c" stroke="#1c1c1c" stroke-width="0.22">0.00</text>
<text x="473.23" y="239.16" font-size="8.4" text-anchor="middle" fill="#ffffff" stroke="#ffffff" stroke-width="0.22">0.87</text>
<text x="502.28" y="239.16" font-size="8.4" text-anchor="middle" fill="#1c1c1c" stroke="#1c1c1c" stroke-width="0.22">0.13</text>
<text x="531.32" y="239.16" font-size="8.4" text-anchor="middle" fill="#1c1c1c" stroke="#1c1c1c" stroke-width="0.22">0.00</text>
<text x="560.38" y="239.16" font-size="8.4" text-anchor="middle" fill="#1c1c1c" stroke="#1c1c1c" stroke-width="0.22">0.00</text>
<text x="444.18" y="268.24" font-size="8.4" text-anchor="middle" fill="#1c1c1c" stroke="#1c1c1c" stroke-width="0.22">0.00</text>
<text x="473.23" y="268.24" font-size="8.4" text-anchor="middle" fill="#1c1c1c" stroke="#1c1c1c" stroke-width="0.22">0.00</text>
<text x="502.28" y="268.24" font-size="8.4" text-anchor="middle" fill="#ffffff" stroke="#ffffff" stroke-width="0.22">0.87</text>
<text x="531.32" y="268.24" font-size="8.4" text-anchor="middle" fill="#1c1c1c" stroke="#1c1c1c" stroke-width="0.22">0.13</text>
<text x="560.38" y="268.24" font-size="8.4" text-anchor="middle" fill="#1c1c1c" stroke="#1c1c1c" stroke-width="0.22">0.00</text>
<text x="444.18" y="297.31" font-size="8.4" text-anchor="middle" fill="#1c1c1c" stroke="#1c1c1c" stroke-width="0.22">0.00</text>
<text x="473.23" y="297.31" font-size="8.4" text-anchor="middle" fill="#1c1c1c" stroke="#1c1c1c" stroke-width="0.22">0.00</text>
<text x="502.28" y="297.31" font-size="8.4" text-anchor="middle" fill="#1c1c1c" stroke="#1c1c1c" stroke-width="0.22">0.00</text>
<text x="531.32" y="297.31" font-size="8.4" text-anchor="middle" fill="#ffffff" stroke="#ffffff" stroke-width="0.22">1.00</text>
<text x="560.38" y="297.31" font-size="8.4" text-anchor="middle" fill="#1c1c1c" stroke="#1c1c1c" stroke-width="0.22">0.00</text>
</g>
<text x="247.8" y="207.74" font-size="7.5" text-anchor="middle" fill="#231f20" stroke="#231f20" stroke-width="0.22" transform="rotate(-90 247.8 207.74)">1</text>
<text x="247.8" y="236.81" font-size="7.5" text-anchor="middle" fill="#231f20" stroke="#231f20" stroke-width="0.22" transform="rotate(-90 247.8 236.81)">2</text>
<text x="247.8" y="265.89" font-size="7.5" text-anchor="middle" fill="#231f20" stroke="#231f20" stroke-width="0.22" transform="rotate(-90 247.8 265.89)">3</text>
<text x="247.8" y="294.96" font-size="7.5" text-anchor="middle" fill="#231f20" stroke="#231f20" stroke-width="0.22" transform="rotate(-90 247.8 294.96)">4</text>
<text x="238.0" y="251.25" font-size="11.6" text-anchor="middle" fill="#231f20" stroke="#231f20" stroke-width="0.32" textLength="83.3" lengthAdjust="spacingAndGlyphs" transform="rotate(-90 238.0 251.25)">Target Presented</text>
<g id="b3">
<rect x="255.4" y="357.20" width="145.25" height="115.90" fill="#f6faff"/>
<rect x="255.40" y="357.20" width="29.05" height="28.98" fill="#1b4487"/>
<rect x="371.60" y="357.20" width="29.05" height="28.98" fill="#dbe7f5"/>
<rect x="255.40" y="386.18" width="29.05" height="28.98" fill="#549ecd"/>
<rect x="284.45" y="386.18" width="29.05" height="28.98" fill="#a4cde3"/>
<rect x="371.60" y="386.18" width="29.05" height="28.98" fill="#dbe7f5"/>
<rect x="313.50" y="415.15" width="29.05" height="28.98" fill="#88bedc"/>
<rect x="342.55" y="415.15" width="29.05" height="28.98" fill="#69add5"/>
<rect x="371.60" y="415.15" width="29.05" height="28.98" fill="#dbe7f5"/>
<rect x="313.50" y="444.12" width="29.05" height="28.98" fill="#b9d6ea"/>
<rect x="342.55" y="444.12" width="29.05" height="28.98" fill="#3d8dc3"/>
<rect x="371.60" y="444.12" width="29.05" height="28.98" fill="#dbe7f5"/>
<text x="270.23" y="373.94" font-size="8.4" text-anchor="middle" fill="#ffffff" stroke="#ffffff" stroke-width="0.22">0.87</text>
<text x="299.28" y="373.94" font-size="8.4" text-anchor="middle" fill="#1c1c1c" stroke="#1c1c1c" stroke-width="0.22">0.00</text>
<text x="328.32" y="373.94" font-size="8.4" text-anchor="middle" fill="#1c1c1c" stroke="#1c1c1c" stroke-width="0.22">0.00</text>
<text x="357.38" y="373.94" font-size="8.4" text-anchor="middle" fill="#1c1c1c" stroke="#1c1c1c" stroke-width="0.22">0.00</text>
<text x="386.43" y="373.94" font-size="8.4" text-anchor="middle" fill="#1c1c1c" stroke="#1c1c1c" stroke-width="0.22">0.13</text>
<text x="270.23" y="402.91" font-size="8.4" text-anchor="middle" fill="#ffffff" stroke="#ffffff" stroke-width="0.22">0.53</text>
<text x="299.28" y="402.91" font-size="8.4" text-anchor="middle" fill="#1c1c1c" stroke="#1c1c1c" stroke-width="0.22">0.33</text>
<text x="328.32" y="402.91" font-size="8.4" text-anchor="middle" fill="#1c1c1c" stroke="#1c1c1c" stroke-width="0.22">0.00</text>
<text x="357.38" y="402.91" font-size="8.4" text-anchor="middle" fill="#1c1c1c" stroke="#1c1c1c" stroke-width="0.22">0.00</text>
<text x="386.43" y="402.91" font-size="8.4" text-anchor="middle" fill="#1c1c1c" stroke="#1c1c1c" stroke-width="0.22">0.13</text>
<text x="270.23" y="431.89" font-size="8.4" text-anchor="middle" fill="#1c1c1c" stroke="#1c1c1c" stroke-width="0.22">0.00</text>
<text x="299.28" y="431.89" font-size="8.4" text-anchor="middle" fill="#1c1c1c" stroke="#1c1c1c" stroke-width="0.22">0.00</text>
<text x="328.32" y="431.89" font-size="8.4" text-anchor="middle" fill="#1c1c1c" stroke="#1c1c1c" stroke-width="0.22">0.40</text>
<text x="357.38" y="431.89" font-size="8.4" text-anchor="middle" fill="#ffffff" stroke="#ffffff" stroke-width="0.22">0.47</text>
<text x="386.43" y="431.89" font-size="8.4" text-anchor="middle" fill="#1c1c1c" stroke="#1c1c1c" stroke-width="0.22">0.13</text>
<text x="270.23" y="460.86" font-size="8.4" text-anchor="middle" fill="#1c1c1c" stroke="#1c1c1c" stroke-width="0.22">0.00</text>
<text x="299.28" y="460.86" font-size="8.4" text-anchor="middle" fill="#1c1c1c" stroke="#1c1c1c" stroke-width="0.22">0.00</text>
<text x="328.32" y="460.86" font-size="8.4" text-anchor="middle" fill="#1c1c1c" stroke="#1c1c1c" stroke-width="0.22">0.27</text>
<text x="357.38" y="460.86" font-size="8.4" text-anchor="middle" fill="#ffffff" stroke="#ffffff" stroke-width="0.22">0.60</text>
<text x="386.43" y="460.86" font-size="8.4" text-anchor="middle" fill="#1c1c1c" stroke="#1c1c1c" stroke-width="0.22">0.13</text>
</g>
<g id="c3">
<rect x="429.35" y="357.20" width="145.25" height="115.90" fill="#f6faff"/>
<rect x="429.35" y="357.20" width="29.05" height="28.98" fill="#213468"/>
<rect x="458.40" y="386.18" width="29.05" height="28.98" fill="#213468"/>
<rect x="487.45" y="415.15" width="29.05" height="28.98" fill="#213468"/>
<rect x="516.50" y="444.12" width="29.05" height="28.98" fill="#213468"/>
<text x="444.18" y="373.94" font-size="8.4" text-anchor="middle" fill="#ffffff" stroke="#ffffff" stroke-width="0.22">1.00</text>
<text x="473.23" y="373.94" font-size="8.4" text-anchor="middle" fill="#1c1c1c" stroke="#1c1c1c" stroke-width="0.22">0.00</text>
<text x="502.28" y="373.94" font-size="8.4" text-anchor="middle" fill="#1c1c1c" stroke="#1c1c1c" stroke-width="0.22">0.00</text>
<text x="531.32" y="373.94" font-size="8.4" text-anchor="middle" fill="#1c1c1c" stroke="#1c1c1c" stroke-width="0.22">0.00</text>
<text x="560.38" y="373.94" font-size="8.4" text-anchor="middle" fill="#1c1c1c" stroke="#1c1c1c" stroke-width="0.22">0.00</text>
<text x="444.18" y="402.91" font-size="8.4" text-anchor="middle" fill="#1c1c1c" stroke="#1c1c1c" stroke-width="0.22">0.00</text>
<text x="473.23" y="402.91" font-size="8.4" text-anchor="middle" fill="#ffffff" stroke="#ffffff" stroke-width="0.22">1.00</text>
<text x="502.28" y="402.91" font-size="8.4" text-anchor="middle" fill="#1c1c1c" stroke="#1c1c1c" stroke-width="0.22">0.00</text>
<text x="531.32" y="402.91" font-size="8.4" text-anchor="middle" fill="#1c1c1c" stroke="#1c1c1c" stroke-width="0.22">0.00</text>
<text x="560.38" y="402.91" font-size="8.4" text-anchor="middle" fill="#1c1c1c" stroke="#1c1c1c" stroke-width="0.22">0.00</text>
<text x="444.18" y="431.89" font-size="8.4" text-anchor="middle" fill="#1c1c1c" stroke="#1c1c1c" stroke-width="0.22">0.00</text>
<text x="473.23" y="431.89" font-size="8.4" text-anchor="middle" fill="#1c1c1c" stroke="#1c1c1c" stroke-width="0.22">0.00</text>
<text x="502.28" y="431.89" font-size="8.4" text-anchor="middle" fill="#ffffff" stroke="#ffffff" stroke-width="0.22">1.00</text>
<text x="531.32" y="431.89" font-size="8.4" text-anchor="middle" fill="#1c1c1c" stroke="#1c1c1c" stroke-width="0.22">0.00</text>
<text x="560.38" y="431.89" font-size="8.4" text-anchor="middle" fill="#1c1c1c" stroke="#1c1c1c" stroke-width="0.22">0.00</text>
<text x="444.18" y="460.86" font-size="8.4" text-anchor="middle" fill="#1c1c1c" stroke="#1c1c1c" stroke-width="0.22">0.00</text>
<text x="473.23" y="460.86" font-size="8.4" text-anchor="middle" fill="#1c1c1c" stroke="#1c1c1c" stroke-width="0.22">0.00</text>
<text x="502.28" y="460.86" font-size="8.4" text-anchor="middle" fill="#1c1c1c" stroke="#1c1c1c" stroke-width="0.22">0.00</text>
<text x="531.32" y="460.86" font-size="8.4" text-anchor="middle" fill="#ffffff" stroke="#ffffff" stroke-width="0.22">1.00</text>
<text x="560.38" y="460.86" font-size="8.4" text-anchor="middle" fill="#1c1c1c" stroke="#1c1c1c" stroke-width="0.22">0.00</text>
</g>
<text x="247.8" y="371.59" font-size="7.5" text-anchor="middle" fill="#231f20" stroke="#231f20" stroke-width="0.22" transform="rotate(-90 247.8 371.59)">1</text>
<text x="247.8" y="400.56" font-size="7.5" text-anchor="middle" fill="#231f20" stroke="#231f20" stroke-width="0.22" transform="rotate(-90 247.8 400.56)">2</text>
<text x="247.8" y="429.54" font-size="7.5" text-anchor="middle" fill="#231f20" stroke="#231f20" stroke-width="0.22" transform="rotate(-90 247.8 429.54)">3</text>
<text x="247.8" y="458.51" font-size="7.5" text-anchor="middle" fill="#231f20" stroke="#231f20" stroke-width="0.22" transform="rotate(-90 247.8 458.51)">4</text>
<text x="238.0" y="414.95" font-size="11.6" text-anchor="middle" fill="#231f20" stroke="#231f20" stroke-width="0.32" textLength="83.3" lengthAdjust="spacingAndGlyphs" transform="rotate(-90 238.0 414.95)">Target Presented</text>
<g id="b4">
<rect x="255.4" y="521.40" width="145.25" height="116.00" fill="#f6faff"/>
<rect x="255.40" y="521.40" width="29.05" height="29.00" fill="#124e96"/>
<rect x="371.60" y="521.40" width="29.05" height="29.00" fill="#dce8f6"/>
<rect x="255.40" y="550.40" width="29.05" height="29.00" fill="#e9effa"/>
<rect x="284.45" y="550.40" width="29.05" height="29.00" fill="#213b7b"/>
<rect x="284.45" y="579.40" width="29.05" height="29.00" fill="#e9effa"/>
<rect x="313.50" y="579.40" width="29.05" height="29.00" fill="#213b7b"/>
<rect x="255.40" y="608.40" width="29.05" height="29.00" fill="#e9effa"/>
<rect x="313.50" y="608.40" width="29.05" height="29.00" fill="#dce8f6"/>
<rect x="342.55" y="608.40" width="29.05" height="29.00" fill="#3181bd"/>
<rect x="371.60" y="608.40" width="29.05" height="29.00" fill="#dce8f6"/>
<text x="270.23" y="538.15" font-size="8.4" text-anchor="middle" fill="#ffffff" stroke="#ffffff" stroke-width="0.22">0.87</text>
<text x="299.28" y="538.15" font-size="8.4" text-anchor="middle" fill="#1c1c1c" stroke="#1c1c1c" stroke-width="0.22">0.00</text>
<text x="328.32" y="538.15" font-size="8.4" text-anchor="middle" fill="#1c1c1c" stroke="#1c1c1c" stroke-width="0.22">0.00</text>
<text x="357.38" y="538.15" font-size="8.4" text-anchor="middle" fill="#1c1c1c" stroke="#1c1c1c" stroke-width="0.22">0.00</text>
<text x="386.43" y="538.15" font-size="8.4" text-anchor="middle" fill="#1c1c1c" stroke="#1c1c1c" stroke-width="0.22">0.13</text>
<text x="270.23" y="567.15" font-size="8.4" text-anchor="middle" fill="#1c1c1c" stroke="#1c1c1c" stroke-width="0.22">0.07</text>
<text x="299.28" y="567.15" font-size="8.4" text-anchor="middle" fill="#ffffff" stroke="#ffffff" stroke-width="0.22">0.93</text>
<text x="328.32" y="567.15" font-size="8.4" text-anchor="middle" fill="#1c1c1c" stroke="#1c1c1c" stroke-width="0.22">0.00</text>
<text x="357.38" y="567.15" font-size="8.4" text-anchor="middle" fill="#1c1c1c" stroke="#1c1c1c" stroke-width="0.22">0.00</text>
<text x="386.43" y="567.15" font-size="8.4" text-anchor="middle" fill="#1c1c1c" stroke="#1c1c1c" stroke-width="0.22">0.00</text>
<text x="270.23" y="596.15" font-size="8.4" text-anchor="middle" fill="#1c1c1c" stroke="#1c1c1c" stroke-width="0.22">0.00</text>
<text x="299.28" y="596.15" font-size="8.4" text-anchor="middle" fill="#1c1c1c" stroke="#1c1c1c" stroke-width="0.22">0.07</text>
<text x="328.32" y="596.15" font-size="8.4" text-anchor="middle" fill="#ffffff" stroke="#ffffff" stroke-width="0.22">0.93</text>
<text x="357.38" y="596.15" font-size="8.4" text-anchor="middle" fill="#1c1c1c" stroke="#1c1c1c" stroke-width="0.22">0.00</text>
<text x="386.43" y="596.15" font-size="8.4" text-anchor="middle" fill="#1c1c1c" stroke="#1c1c1c" stroke-width="0.22">0.00</text>
<text x="270.23" y="625.15" font-size="8.4" text-anchor="middle" fill="#1c1c1c" stroke="#1c1c1c" stroke-width="0.22">0.07</text>
<text x="299.28" y="625.15" font-size="8.4" text-anchor="middle" fill="#1c1c1c" stroke="#1c1c1c" stroke-width="0.22">0.00</text>
<text x="328.32" y="625.15" font-size="8.4" text-anchor="middle" fill="#1c1c1c" stroke="#1c1c1c" stroke-width="0.22">0.13</text>
<text x="357.38" y="625.15" font-size="8.4" text-anchor="middle" fill="#ffffff" stroke="#ffffff" stroke-width="0.22">0.67</text>
<text x="386.43" y="625.15" font-size="8.4" text-anchor="middle" fill="#1c1c1c" stroke="#1c1c1c" stroke-width="0.22">0.13</text>
</g>
<g id="c4">
<rect x="429.35" y="521.40" width="145.25" height="116.00" fill="#f6faff"/>
<rect x="429.35" y="521.40" width="29.05" height="29.00" fill="#213468"/>
<rect x="429.35" y="550.40" width="29.05" height="29.00" fill="#dde8f6"/>
<rect x="458.40" y="550.40" width="29.05" height="29.00" fill="#0d549f"/>
<rect x="487.45" y="579.40" width="29.05" height="29.00" fill="#213468"/>
<rect x="516.50" y="608.40" width="29.05" height="29.00" fill="#1a468a"/>
<rect x="545.55" y="608.40" width="29.05" height="29.00" fill="#e9effa"/>
<text x="444.18" y="538.15" font-size="8.4" text-anchor="middle" fill="#ffffff" stroke="#ffffff" stroke-width="0.22">1.00</text>
<text x="473.23" y="538.15" font-size="8.4" text-anchor="middle" fill="#1c1c1c" stroke="#1c1c1c" stroke-width="0.22">0.00</text>
<text x="502.28" y="538.15" font-size="8.4" text-anchor="middle" fill="#1c1c1c" stroke="#1c1c1c" stroke-width="0.22">0.00</text>
<text x="531.32" y="538.15" font-size="8.4" text-anchor="middle" fill="#1c1c1c" stroke="#1c1c1c" stroke-width="0.22">0.00</text>
<text x="560.38" y="538.15" font-size="8.4" text-anchor="middle" fill="#1c1c1c" stroke="#1c1c1c" stroke-width="0.22">0.00</text>
<text x="444.18" y="567.15" font-size="8.4" text-anchor="middle" fill="#1c1c1c" stroke="#1c1c1c" stroke-width="0.22">0.13</text>
<text x="473.23" y="567.15" font-size="8.4" text-anchor="middle" fill="#ffffff" stroke="#ffffff" stroke-width="0.22">0.87</text>
<text x="502.28" y="567.15" font-size="8.4" text-anchor="middle" fill="#1c1c1c" stroke="#1c1c1c" stroke-width="0.22">0.00</text>
<text x="531.32" y="567.15" font-size="8.4" text-anchor="middle" fill="#1c1c1c" stroke="#1c1c1c" stroke-width="0.22">0.00</text>
<text x="560.38" y="567.15" font-size="8.4" text-anchor="middle" fill="#1c1c1c" stroke="#1c1c1c" stroke-width="0.22">0.00</text>
<text x="444.18" y="596.15" font-size="8.4" text-anchor="middle" fill="#1c1c1c" stroke="#1c1c1c" stroke-width="0.22">0.00</text>
<text x="473.23" y="596.15" font-size="8.4" text-anchor="middle" fill="#1c1c1c" stroke="#1c1c1c" stroke-width="0.22">0.00</text>
<text x="502.28" y="596.15" font-size="8.4" text-anchor="middle" fill="#ffffff" stroke="#ffffff" stroke-width="0.22">1.00</text>
<text x="531.32" y="596.15" font-size="8.4" text-anchor="middle" fill="#1c1c1c" stroke="#1c1c1c" stroke-width="0.22">0.00</text>
<text x="560.38" y="596.15" font-size="8.4" text-anchor="middle" fill="#1c1c1c" stroke="#1c1c1c" stroke-width="0.22">0.00</text>
<text x="444.18" y="625.15" font-size="8.4" text-anchor="middle" fill="#1c1c1c" stroke="#1c1c1c" stroke-width="0.22">0.00</text>
<text x="473.23" y="625.15" font-size="8.4" text-anchor="middle" fill="#1c1c1c" stroke="#1c1c1c" stroke-width="0.22">0.00</text>
<text x="502.28" y="625.15" font-size="8.4" text-anchor="middle" fill="#1c1c1c" stroke="#1c1c1c" stroke-width="0.22">0.00</text>
<text x="531.32" y="625.15" font-size="8.4" text-anchor="middle" fill="#ffffff" stroke="#ffffff" stroke-width="0.22">0.93</text>
<text x="560.38" y="625.15" font-size="8.4" text-anchor="middle" fill="#1c1c1c" stroke="#1c1c1c" stroke-width="0.22">0.07</text>
</g>
<text x="247.8" y="535.8" font-size="7.5" text-anchor="middle" fill="#231f20" stroke="#231f20" stroke-width="0.22" transform="rotate(-90 247.8 535.8)">1</text>
<text x="247.8" y="564.8" font-size="7.5" text-anchor="middle" fill="#231f20" stroke="#231f20" stroke-width="0.22" transform="rotate(-90 247.8 564.8)">2</text>
<text x="247.8" y="593.8" font-size="7.5" text-anchor="middle" fill="#231f20" stroke="#231f20" stroke-width="0.22" transform="rotate(-90 247.8 593.8)">3</text>
<text x="247.8" y="622.8" font-size="7.5" text-anchor="middle" fill="#231f20" stroke="#231f20" stroke-width="0.22" transform="rotate(-90 247.8 622.8)">4</text>
<text x="238.0" y="579.2" font-size="11.6" text-anchor="middle" fill="#231f20" stroke="#231f20" stroke-width="0.32" textLength="83.3" lengthAdjust="spacingAndGlyphs" transform="rotate(-90 238.0 579.2)">Target Presented</text>
<text x="269.82" y="648.5" font-size="7.5" text-anchor="middle" fill="#231f20" stroke="#231f20" stroke-width="0.22">1</text>
<text x="298.88" y="648.5" font-size="7.5" text-anchor="middle" fill="#231f20" stroke="#231f20" stroke-width="0.22">2</text>
<text x="327.92" y="648.5" font-size="7.5" text-anchor="middle" fill="#231f20" stroke="#231f20" stroke-width="0.22">3</text>
<text x="356.97" y="648.5" font-size="7.5" text-anchor="middle" fill="#231f20" stroke="#231f20" stroke-width="0.22">4</text>
<text x="386.02" y="648.5" font-size="7.5" text-anchor="middle" fill="#231f20" stroke="#231f20" stroke-width="0.22">None</text>
<text x="328.02" y="661.2" font-size="11.6" text-anchor="middle" fill="#231f20" stroke="#231f20" stroke-width="0.32" textLength="80.8" lengthAdjust="spacingAndGlyphs">Target Predicted</text>
<text x="443.77" y="648.5" font-size="7.5" text-anchor="middle" fill="#231f20" stroke="#231f20" stroke-width="0.22">1</text>
<text x="472.82" y="648.5" font-size="7.5" text-anchor="middle" fill="#231f20" stroke="#231f20" stroke-width="0.22">2</text>
<text x="501.88" y="648.5" font-size="7.5" text-anchor="middle" fill="#231f20" stroke="#231f20" stroke-width="0.22">3</text>
<text x="530.92" y="648.5" font-size="7.5" text-anchor="middle" fill="#231f20" stroke="#231f20" stroke-width="0.22">4</text>
<text x="559.98" y="648.5" font-size="7.5" text-anchor="middle" fill="#231f20" stroke="#231f20" stroke-width="0.22">None</text>
<text x="501.98" y="661.2" font-size="11.6" text-anchor="middle" fill="#231f20" stroke="#231f20" stroke-width="0.32" textLength="80.8" lengthAdjust="spacingAndGlyphs">Target Predicted</text>
<text x="328.2" y="24.5" font-size="11.6" text-anchor="middle" fill="#231f20" stroke="#231f20" stroke-width="0.32" textLength="50.6" lengthAdjust="spacingAndGlyphs">First Block</text>
<text x="502.0" y="24.5" font-size="11.6" text-anchor="middle" fill="#231f20" stroke="#231f20" stroke-width="0.32" textLength="50.4" lengthAdjust="spacingAndGlyphs">Best Block</text>
<text x="0.1" y="20.4" font-size="23.6" fill="#231f20" stroke="#231f20" stroke-width="0.45" textLength="11.6" lengthAdjust="spacingAndGlyphs">a</text>
<text x="233.0" y="19.6" font-size="25.4" fill="#231f20" stroke="#231f20" stroke-width="0.45" textLength="15.0" lengthAdjust="spacingAndGlyphs">b</text>
<text x="409.0" y="20.5" font-size="24.0" fill="#231f20" stroke="#231f20" stroke-width="0.45" textLength="12.6" lengthAdjust="spacingAndGlyphs">c</text>
</svg>
</body>
</html>
